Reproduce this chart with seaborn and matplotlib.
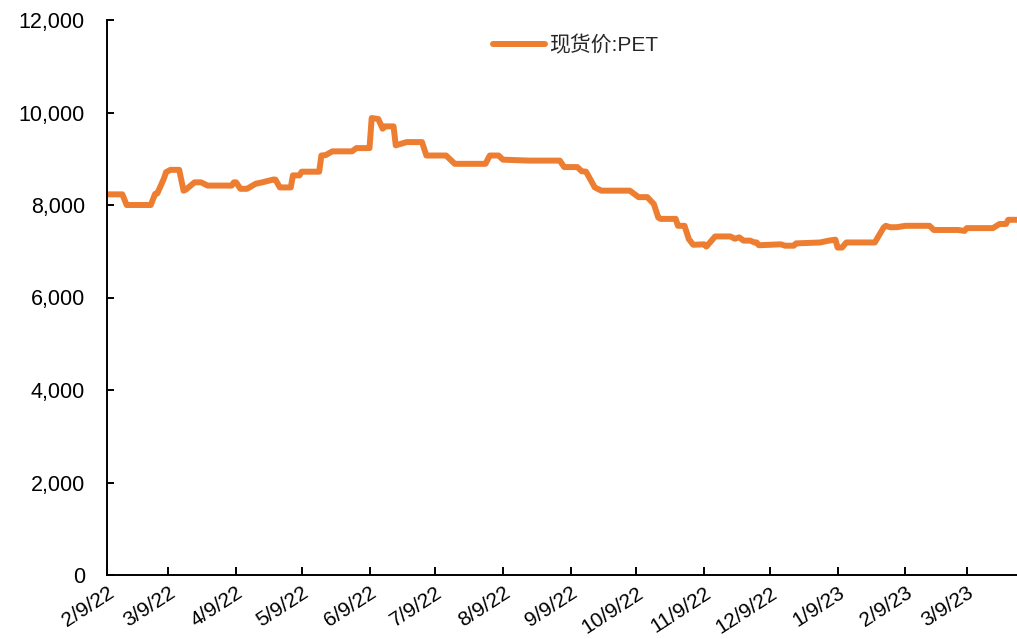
import matplotlib
matplotlib.use("Agg")
import matplotlib.pyplot as plt
from matplotlib.ticker import FuncFormatter
import seaborn as sns
import pandas as pd

# ---- data ----
series_name = "现货价:PET"
dates = [
    "2022-02-09", "2022-02-16", "2022-02-18", "2022-03-01", "2022-03-03", "2022-03-04",
    "2022-03-07", "2022-03-08", "2022-03-10", "2022-03-14", "2022-03-16", "2022-03-17",
    "2022-03-21", "2022-03-24", "2022-03-27", "2022-04-07", "2022-04-08", "2022-04-09",
    "2022-04-11", "2022-04-14", "2022-04-18", "2022-04-21", "2022-04-26", "2022-04-27",
    "2022-04-29", "2022-05-04", "2022-05-05", "2022-05-08", "2022-05-09", "2022-05-17",
    "2022-05-18", "2022-05-20", "2022-05-23", "2022-06-01", "2022-06-03", "2022-06-09",
    "2022-06-10", "2022-06-13", "2022-06-15", "2022-06-16", "2022-06-20", "2022-06-21",
    "2022-06-26", "2022-07-03", "2022-07-05", "2022-07-14", "2022-07-18", "2022-08-01",
    "2022-08-03", "2022-08-07", "2022-08-09", "2022-08-21", "2022-09-04", "2022-09-06",
    "2022-09-12", "2022-09-14", "2022-09-16", "2022-09-20", "2022-09-23", "2022-10-06",
    "2022-10-10", "2022-10-14", "2022-10-17", "2022-10-19", "2022-10-20", "2022-10-27",
    "2022-10-28", "2022-10-31", "2022-11-02", "2022-11-04", "2022-11-09", "2022-11-10",
    "2022-11-14", "2022-11-21", "2022-11-23", "2022-11-25", "2022-11-27", "2022-11-30",
    "2022-12-02", "2022-12-03", "2022-12-04", "2022-12-14", "2022-12-16", "2022-12-20",
    "2022-12-21", "2023-01-01", "2023-01-05", "2023-01-08", "2023-01-09", "2023-01-11",
    "2023-01-13", "2023-01-26", "2023-01-30", "2023-01-31", "2023-02-02", "2023-02-05",
    "2023-02-09", "2023-02-20", "2023-02-22", "2023-03-05", "2023-03-08", "2023-03-09",
    "2023-03-21", "2023-03-24", "2023-03-27", "2023-03-28", "2023-04-01",
]
values = [
    8230, 8230, 8000, 8000, 8240, 8250,
    8570, 8710, 8760, 8760, 8310, 8330,
    8490, 8490, 8420, 8420, 8490, 8490,
    8350, 8350, 8460, 8490, 8550, 8550,
    8380, 8380, 8640, 8640, 8720, 8720,
    9070, 9080, 9160, 9160, 9230, 9230,
    9880, 9860, 9650, 9700, 9700, 9290,
    9360, 9360, 9070, 9070, 8890, 8890,
    9070, 9070, 8980, 8960, 8960, 8820,
    8820, 8730, 8720, 8380, 8310, 8310,
    8170, 8170, 8020, 7730, 7700, 7700,
    7550, 7550, 7260, 7140, 7150, 7100,
    7320, 7320, 7270, 7300, 7230, 7230,
    7190, 7190, 7130, 7150, 7120, 7120,
    7170, 7190, 7230, 7250, 7080, 7080,
    7190, 7190, 7510, 7550, 7520, 7520,
    7550, 7550, 7460, 7460, 7440, 7500,
    7500, 7590, 7590, 7680, 7680,
]
tick_dates = [
    "2022-02-09", "2022-03-09", "2022-04-09", "2022-05-09", "2022-06-09", "2022-07-09",
    "2022-08-09", "2022-09-09", "2022-10-09", "2022-11-09", "2022-12-09", "2023-01-09",
    "2023-02-09", "2023-03-09",
]
y_ticks = [0, 2000, 4000, 6000, 8000, 10000, 12000]

# ---- style ----
sns.set_style("ticks")
plt.rcParams["font.family"] = ["Liberation Sans", "Noto Sans CJK SC", "DejaVu Sans"]

df = pd.DataFrame({"date": pd.to_datetime(dates), "value": values})

fig = plt.figure(figsize=(10.17, 6.39), dpi=100)
ax = fig.add_axes([107 / 1017, 64 / 639, 910 / 1017, 555 / 639])

sns.lineplot(data=df, x="date", y="value", ax=ax, color="#ED7D31",
             linewidth=4.3, label=series_name, solid_joinstyle="round",
             solid_capstyle="round")

ax.set_xlim(pd.Timestamp("2022-02-09"), pd.Timestamp("2023-04-01"))
ax.set_ylim(0, 12000)
ax.set_yticks(y_ticks)
ax.yaxis.set_major_formatter(FuncFormatter(lambda v, p: f"{int(v):,}"))

tks = pd.to_datetime(tick_dates)
ax.set_xticks(tks)
ax.set_xticklabels([f"{d.month}/{d.day}/{d.year % 100}" for d in tks],
                   rotation=33, ha="right", va="top", rotation_mode="anchor")

ax.set_xlabel("")
ax.set_ylabel("")
for s in ["top", "right"]:
    ax.spines[s].set_visible(False)
for s in ["left", "bottom"]:
    ax.spines[s].set_color("black")
    ax.spines[s].set_linewidth(1.4)

ax.tick_params(axis="y", direction="in", length=5, width=1.4, labelsize=15.5,
               pad=16, colors="black")
ax.tick_params(axis="x", direction="in", length=6, width=1.4, labelsize=15,
               pad=6, colors="black")

ax.legend(loc="center", bbox_to_anchor=(576 / 1017, 1 - 45 / 639),
          bbox_transform=fig.transFigure, frameon=False, fontsize=15,
          handlelength=2.5, handletextpad=0.2)

fig.savefig("out.png", dpi=100)
